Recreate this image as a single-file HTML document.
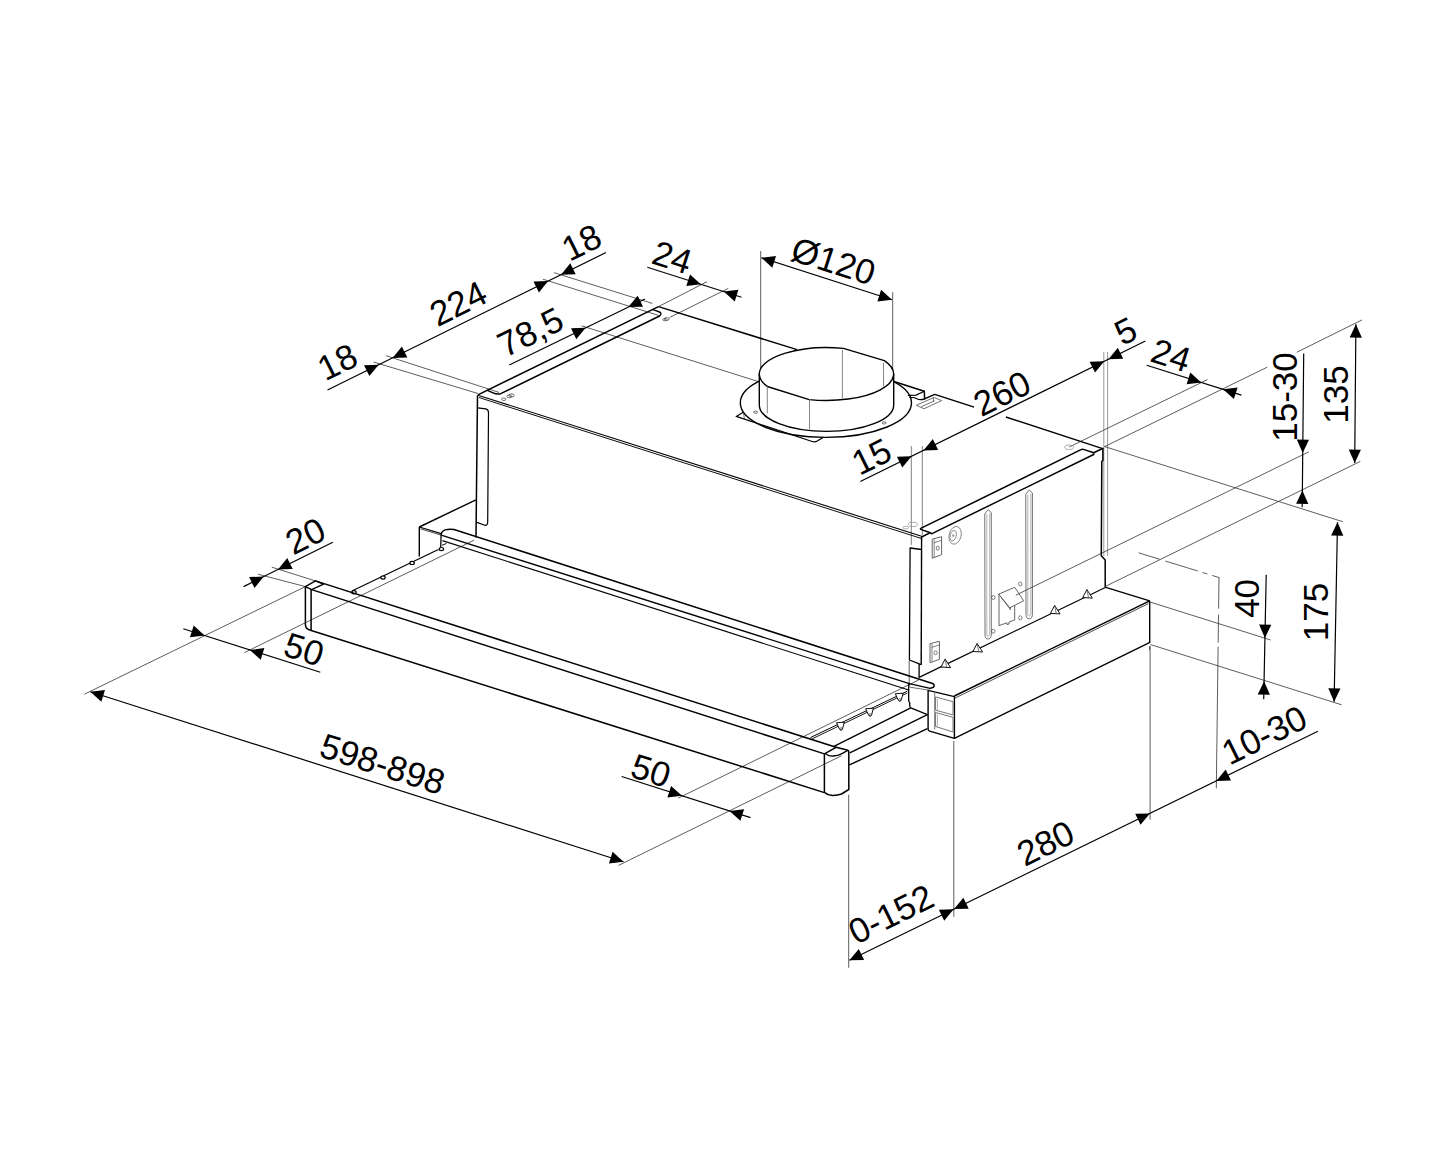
<!DOCTYPE html>
<html><head><meta charset="utf-8"><title>Drawing</title>
<style>
html,body{margin:0;padding:0;background:#fff;}
body{width:1445px;height:1156px;overflow:hidden;}
svg{display:block;}
text{font-family:"Liberation Sans",sans-serif;}
</style></head><body>
<svg width="1445" height="1156" viewBox="0 0 1445 1156">
<rect x="0" y="0" width="1445" height="1156" fill="#fff"/>
<line x1="373.5" y1="362.0" x2="478.0" y2="393.5" stroke="#333" stroke-width="0.8" />
<line x1="386.0" y1="355.7" x2="499.0" y2="392.4" stroke="#333" stroke-width="0.8" />
<line x1="542.9" y1="279.2" x2="659.8" y2="315.8" stroke="#333" stroke-width="0.8" />
<line x1="554.1" y1="272.7" x2="652.3" y2="303.4" stroke="#333" stroke-width="0.8" />
<line x1="581.5" y1="325.8" x2="759.4" y2="381.9" stroke="#333" stroke-width="0.8" />
<line x1="707.0" y1="281.7" x2="658.5" y2="306.6" stroke="#333" stroke-width="0.8" />
<line x1="728.3" y1="288.4" x2="669.5" y2="317.5" stroke="#333" stroke-width="0.8" />
<line x1="760.7" y1="251.0" x2="760.7" y2="374.4" stroke="#333" stroke-width="0.8" />
<line x1="892.7" y1="292.2" x2="892.7" y2="374.4" stroke="#333" stroke-width="0.8" />
<line x1="911.3" y1="446.0" x2="911.3" y2="545.0" stroke="#555" stroke-width="0.75" />
<line x1="922.3" y1="446.0" x2="922.3" y2="535.0" stroke="#555" stroke-width="0.75" />
<ellipse cx="913.0" cy="524.4" rx="4.6" ry="2.2" fill="none" stroke="#888" stroke-width="0.7"/>
<ellipse cx="905.8" cy="527.6" rx="2.8" ry="1.4" fill="none" stroke="#888" stroke-width="0.7"/>
<line x1="909.2" y1="661.0" x2="909.2" y2="686.0" stroke="#333" stroke-width="0.8" />
<line x1="1103.8" y1="352.0" x2="1103.8" y2="556.0" stroke="#777" stroke-width="0.75" />
<line x1="1107.6" y1="352.0" x2="1107.6" y2="556.0" stroke="#777" stroke-width="0.75" />
<line x1="1069.4" y1="446.9" x2="1207.4" y2="379.6" stroke="#333" stroke-width="0.8" />
<ellipse cx="1069.1" cy="447.3" rx="4.4" ry="2.2" fill="none" stroke="#888" stroke-width="0.7"/>
<line x1="1105.0" y1="446.4" x2="1267.2" y2="367.2" stroke="#333" stroke-width="0.8" />
<line x1="1296.8" y1="352.3" x2="1362.0" y2="319.9" stroke="#333" stroke-width="0.8" />
<line x1="1015.8" y1="595.2" x2="1308.7" y2="451.9" stroke="#333" stroke-width="0.8" />
<line x1="1105.8" y1="586.2" x2="1360.3" y2="461.4" stroke="#333" stroke-width="0.8" />
<line x1="1104.0" y1="446.4" x2="1342.8" y2="521.7" stroke="#333" stroke-width="0.8" />
<line x1="1150.3" y1="602.1" x2="1270.6" y2="640.0" stroke="#333" stroke-width="0.8" />
<line x1="1150.3" y1="644.5" x2="1341.6" y2="704.8" stroke="#333" stroke-width="0.8" />
<line x1="848.7" y1="794.7" x2="848.7" y2="967.8" stroke="#333" stroke-width="0.8" />
<line x1="953.8" y1="741.0" x2="953.8" y2="916.7" stroke="#333" stroke-width="0.8" />
<line x1="1150.1" y1="646.0" x2="1150.1" y2="819.6" stroke="#333" stroke-width="0.8" />
<line x1="1219.0" y1="577.7" x2="1216.3" y2="788.4" stroke="#333" stroke-width="0.8" stroke-dasharray="31 6 28 4 200"/>
<line x1="1138.6" y1="552.8" x2="1219.5" y2="577.7" stroke="#333" stroke-width="0.8" stroke-dasharray="22 6 34 5 5 5"/>
<line x1="84.4" y1="694.2" x2="305.4" y2="586.6" stroke="#333" stroke-width="0.8" />
<line x1="618.5" y1="865.4" x2="841.4" y2="755.8" stroke="#333" stroke-width="0.8" />
<line x1="244.4" y1="652.6" x2="474.0" y2="540.2" stroke="#333" stroke-width="0.8" />
<line x1="678.3" y1="798.1" x2="918.4" y2="680.1" stroke="#333" stroke-width="0.8" />
<line x1="258.0" y1="574.2" x2="305.4" y2="586.6" stroke="#333" stroke-width="0.8" />
<line x1="271.8" y1="567.2" x2="315.4" y2="580.9" stroke="#333" stroke-width="0.8" />
<line x1="477.5" y1="395.2" x2="476.0" y2="537.5" stroke="#000" stroke-width="1.5" />
<path d="M477.9,407.8 L485.6,408.8 Q488.5,409.4 488.5,412.4 L487.7,522 Q487.7,525.6 484.8,525.3 L476.9,522.4" stroke="#000" stroke-width="1.2" fill="none" stroke-linejoin="round" stroke-linecap="round" />
<line x1="477.9" y1="394.9" x2="658.5" y2="306.6" stroke="#000" stroke-width="1.5" />
<path d="M487.5,390.3 L493,392.8 Q497,394.6 500.7,393.7 L659.6,316 Q661,315.2 660.9,313.6 Q660.7,312.5 659.5,312 L653,309.7" stroke="#000" stroke-width="1.4" fill="none" stroke-linejoin="round" stroke-linecap="round" />
<line x1="477.9" y1="395.2" x2="921.6" y2="536.2" stroke="#000" stroke-width="1.1" />
<line x1="478.9" y1="397.5" x2="921.2" y2="538.4" stroke="#000" stroke-width="0.95" />
<line x1="658.5" y1="306.6" x2="797.0" y2="349.6" stroke="#000" stroke-width="1.5" />
<line x1="1005.9" y1="417.0" x2="1102.6" y2="448.6" stroke="#000" stroke-width="1.5" />
<ellipse cx="511.6" cy="395.4" rx="2.6" ry="1.6" fill="none" stroke="#333" stroke-width="0.7"/>
<ellipse cx="509.3" cy="396.3" rx="2.4" ry="1.5" fill="none" stroke="#333" stroke-width="0.7"/>
<ellipse cx="503.8" cy="399.2" rx="2.2" ry="1.3" fill="none" stroke="#333" stroke-width="0.7"/>
<ellipse cx="666.8" cy="319.0" rx="2.4" ry="1.4" fill="none" stroke="#333" stroke-width="0.7"/>
<ellipse cx="664.8" cy="319.6" rx="2.0" ry="1.2" fill="none" stroke="#333" stroke-width="0.7"/>
<ellipse cx="825.9" cy="402.8" rx="85.6" ry="34.6" fill="#fff" stroke="#000" stroke-width="1.4"/>
<path d="M742.9,412.6 L736.2,416.4 L812.2,441.5 Q814.7,442.3 817.2,441.1 L822.6,437.8" stroke="#000" stroke-width="1.2" fill="none" stroke-linejoin="round" stroke-linecap="round" />
<path d="M743.6,413 L744.4,418.8" stroke="#333" stroke-width="0.7" fill="none" stroke-linejoin="round" stroke-linecap="round" />
<path d="M893.1,381.3 L924.3,391.2 L924.6,398.9 L934.7,394.4 L973.4,406.9" stroke="#000" stroke-width="1.5" fill="none" stroke-linejoin="round" stroke-linecap="round" />
<path d="M924.3,391.2 L916,395.1 L908.4,395.4 M909.8,397.5 Q915,397.3 917,398.8 Q920,400.6 924.6,398.9" stroke="#000" stroke-width="1.2" fill="none" stroke-linejoin="round" stroke-linecap="round" />
<ellipse cx="755.6" cy="412.2" rx="2.0" ry="1.1" fill="none" stroke="#333" stroke-width="0.7"/>
<ellipse cx="884.1" cy="422.9" rx="2.0" ry="1.1" fill="none" stroke="#333" stroke-width="0.7"/>
<path d="M759.3,374.0 L759.3,404.9 A67.2,26.5 0 0 0 893.7,404.9 L893.7,374.0 Z" stroke="#000" stroke-width="1.4" fill="#fff" stroke-linejoin="round" stroke-linecap="round" />
<path d="M759.3,374.0 A67.2,26.5 0 0 1 843.4,348.4 L884.4,360.6 A67.2,26.5 0 0 1 809.2,399.6 L767.3,386.5 A67.2,26.5 0 0 1 759.3,374.0 Z" stroke="#000" stroke-width="1.4" fill="#fff" stroke-linejoin="round" stroke-linecap="round" />
<line x1="767.3" y1="385.0" x2="767.3" y2="413.2" stroke="#666" stroke-width="0.8" />
<line x1="809.5" y1="399.0" x2="809.5" y2="429.2" stroke="#666" stroke-width="0.8" />
<line x1="842.4" y1="349.8" x2="842.4" y2="398.6" stroke="#666" stroke-width="0.8" />
<line x1="883.5" y1="362.7" x2="883.5" y2="386.5" stroke="#666" stroke-width="0.8" />
<path d="M916.7,405.1 L934,397.5 L941.6,400.6 L924.3,408.6 Z M921.5,406.6 L934.2,401 M933.3,398.2 L933.6,401" stroke="#333" stroke-width="0.7" fill="none" stroke-linejoin="round" stroke-linecap="round" />
<path d="M921.6,537 L930.4,532.7 M930.4,532.7 L921.4,529.6 Q919.6,528.8 921.2,528.2 L1081,449.6 Q1082.6,448.8 1084.3,449.6 L1093.7,452.7 L1093.7,454.5 L931.5,533.8 L930.4,532.7 M1093.7,452.7 L1102.6,448.5" stroke="#000" stroke-width="1.5" fill="none" stroke-linejoin="round" stroke-linecap="round" />
<path d="M1102.9,448.6 L1102.9,460.4 L1101.8,461.5 L1101.3,555.8 L1105.2,560 L1105.2,586.5" stroke="#000" stroke-width="1.5" fill="none" stroke-linejoin="round" stroke-linecap="round" />
<line x1="921.6" y1="536.5" x2="921.2" y2="664.3" stroke="#000" stroke-width="1.4" />
<path d="M921.4,549.5 L910.1,548 L909.4,660 L921.2,664.6 M919.1,664.2 L919.1,677.4" stroke="#000" stroke-width="1.3" fill="none" stroke-linejoin="round" stroke-linecap="round" />
<line x1="919.1" y1="677.4" x2="1105.8" y2="587.3" stroke="#000" stroke-width="1.2" />
<path d="M941.1,666.7 L945.1,659.1 L950.4,667.3 Z" stroke="#111" stroke-width="1.0" fill="#fff" stroke-linejoin="round" stroke-linecap="round" />
<path d="M945.1,659.1 L946.7,667.0" stroke="#444" stroke-width="0.7" fill="none" stroke-linejoin="round" stroke-linecap="round" />
<path d="M973.1,651.1 L977.1,643.5 L982.4,651.7 Z" stroke="#111" stroke-width="1.0" fill="#fff" stroke-linejoin="round" stroke-linecap="round" />
<path d="M977.1,643.5 L978.7,651.4" stroke="#444" stroke-width="0.7" fill="none" stroke-linejoin="round" stroke-linecap="round" />
<path d="M1050.6,613.0 L1054.6,605.4 L1059.9,613.6 Z" stroke="#111" stroke-width="1.0" fill="#fff" stroke-linejoin="round" stroke-linecap="round" />
<path d="M1054.6,605.4 L1056.2,613.3" stroke="#444" stroke-width="0.7" fill="none" stroke-linejoin="round" stroke-linecap="round" />
<path d="M1082.9,597.2 L1086.9,589.6 L1092.2,597.8 Z" stroke="#111" stroke-width="1.0" fill="#fff" stroke-linejoin="round" stroke-linecap="round" />
<path d="M1086.9,589.6 L1088.5,597.5" stroke="#444" stroke-width="0.7" fill="none" stroke-linejoin="round" stroke-linecap="round" />
<ellipse cx="955.1" cy="535.3" rx="6.0" ry="9.0" fill="none" stroke="#777" stroke-width="0.8" transform="rotate(14 955.1 535.3)"/>
<ellipse cx="953.2" cy="535.6" rx="3.0" ry="5.4" fill="none" stroke="#777" stroke-width="0.8" transform="rotate(14 953.2 535.6)"/>
<ellipse cx="953.2" cy="535.6" rx="0.7" ry="0.9" fill="none" stroke="#777" stroke-width="0.9"/>
<path d="M932.6,539.0 L941.6,536.7 L941.6,554.7 L932.6,558.1 Z" stroke="#555" stroke-width="0.9" fill="none" stroke-linejoin="round" stroke-linecap="round" />
<path d="M934.2,542.7 L941.6,540.3 M934.2,539.9 L934.2,556.7" stroke="#333" stroke-width="0.6" fill="none" stroke-linejoin="round" stroke-linecap="round" />
<ellipse cx="937.8" cy="548.2" rx="1.6" ry="2.0" fill="none" stroke="#333" stroke-width="0.6"/>
<path d="M930.4,643.6 L939.4,641.3 L939.4,659.3 L930.4,662.7 Z" stroke="#555" stroke-width="0.9" fill="none" stroke-linejoin="round" stroke-linecap="round" />
<path d="M932.0,647.3 L939.4,644.9 M932.0,644.5 L932.0,661.3" stroke="#333" stroke-width="0.6" fill="none" stroke-linejoin="round" stroke-linecap="round" />
<ellipse cx="935.6" cy="652.8" rx="1.6" ry="2.0" fill="none" stroke="#333" stroke-width="0.6"/>
<path d="M985.0,513.7 L988.1,509.7 L991.3,512.7 L991.3,634.0 Q991.3,639.0 988.1,639.0 Q985.0,639.0 985.0,635.0 Z" stroke="#333" stroke-width="0.7" fill="none" stroke-linejoin="round" stroke-linecap="round" />
<path d="M986.8,514.7 L986.8,635.0 Q988.1,638.0 989.7,634.0 L989.7,513.7" stroke="#808080" stroke-width="0.6" fill="none" stroke-linejoin="round" stroke-linecap="round" />
<path d="M1026.0,494.0 L1029.2,490.0 L1032.4,493.0 L1032.4,613.8 Q1032.4,618.8 1029.2,618.8 Q1026.0,618.8 1026.0,614.8 Z" stroke="#333" stroke-width="0.7" fill="none" stroke-linejoin="round" stroke-linecap="round" />
<path d="M1027.8,495.0 L1027.8,614.8 Q1029.2,617.8 1030.8,613.8 L1030.8,494.0" stroke="#808080" stroke-width="0.6" fill="none" stroke-linejoin="round" stroke-linecap="round" />
<path d="M999,594 L1014.7,587.3 L1023.7,600.8 L1010.2,607.6 Z" stroke="#555" stroke-width="0.9" fill="none" stroke-linejoin="round" stroke-linecap="round" />
<path d="M999,594 L999,625.6 L1007,622.8 L1007,624.6 L1009,624 L1009,622 L1014.7,619.9 L1014.7,605.4" stroke="#555" stroke-width="0.9" fill="none" stroke-linejoin="round" stroke-linecap="round" />
<path d="M1001,597 L1010.6,610 L1010.2,607.6" stroke="#333" stroke-width="0.6" fill="none" stroke-linejoin="round" stroke-linecap="round" />
<ellipse cx="993.3" cy="597.5" rx="1.7" ry="2.0" fill="none" stroke="#333" stroke-width="0.6"/>
<ellipse cx="1020.3" cy="584.0" rx="1.7" ry="2.0" fill="none" stroke="#333" stroke-width="0.6"/>
<ellipse cx="993.3" cy="631.2" rx="1.7" ry="2.0" fill="none" stroke="#333" stroke-width="0.6"/>
<ellipse cx="1020.3" cy="617.8" rx="1.7" ry="2.0" fill="none" stroke="#333" stroke-width="0.6"/>
<line x1="1105.8" y1="587.3" x2="1149.7" y2="600.8" stroke="#000" stroke-width="1.4" />
<line x1="1149.7" y1="600.8" x2="954.4" y2="696.0" stroke="#000" stroke-width="1.5" />
<line x1="1148.5" y1="603.6" x2="954.4" y2="698.4" stroke="#222" stroke-width="0.8" />
<line x1="1149.7" y1="600.8" x2="1149.7" y2="642.4" stroke="#000" stroke-width="1.4" />
<path d="M1149.7,642.4 L1147.4,643.6 L954.4,738.3" stroke="#000" stroke-width="1.4" fill="none" stroke-linejoin="round" stroke-linecap="round" />
<path d="M928.1,690.4 L954.4,696.6 L954.4,738.3 L929.7,731.2 Q928.1,730.6 928.1,729.2 Z" stroke="#000" stroke-width="1.4" fill="none" stroke-linejoin="round" stroke-linecap="round" />
<path d="M934.7,691.8 L934.7,729 M935.9,697 L953,701.7 L953,714.9 L935.9,710.3 Z M935.9,712.6 L953,717.3 L953,732 L935.9,726.6 Z" stroke="#777" stroke-width="1.0" fill="none" stroke-linejoin="round" stroke-linecap="round" />
<path d="M937.4,699 L937.4,710 M937.4,714.6 L937.4,726.4" stroke="#999" stroke-width="0.8" fill="none" stroke-linejoin="round" stroke-linecap="round" />
<line x1="1149.7" y1="646.0" x2="1149.7" y2="650.0" stroke="#333" stroke-width="0.8" />
<path d="M441.1,534.9 Q441.5,531.2 445,529.9 Q449,528.6 454,529.5 L932.6,683.5 Q935.3,685 933.4,687.2 L930.2,688.4" stroke="#000" stroke-width="1.5" fill="none" stroke-linejoin="round" stroke-linecap="round" />
<line x1="442.0" y1="535.4" x2="909.4" y2="683.6" stroke="#000" stroke-width="1.4" />
<line x1="442.4" y1="540.6" x2="908.7" y2="690.0" stroke="#000" stroke-width="1.15" />
<path d="M909.4,683.6 L930.2,688.4 M908.7,684.5 L908.7,700.9 Q910.5,703 909.6,705 Q909.6,707 910.8,707.8 L927.4,714.7" stroke="#000" stroke-width="1.3" fill="none" stroke-linejoin="round" stroke-linecap="round" />
<path d="M910,687.2 L929,690.2" stroke="#333" stroke-width="0.7" fill="none" stroke-linejoin="round" stroke-linecap="round" />
<line x1="419.3" y1="527.0" x2="476.0" y2="499.8" stroke="#000" stroke-width="1.4" />
<line x1="419.3" y1="527.0" x2="419.3" y2="556.6" stroke="#000" stroke-width="1.4" />
<line x1="419.3" y1="527.0" x2="441.1" y2="533.6" stroke="#000" stroke-width="1.3" />
<line x1="420.3" y1="528.8" x2="440.6" y2="535.0" stroke="#222" stroke-width="0.8" />
<line x1="441.1" y1="534.9" x2="440.7" y2="548.1" stroke="#000" stroke-width="1.3" />
<path d="M442.4,545.2 L446.1,543.6" stroke="#000" stroke-width="1.0" fill="none" stroke-linejoin="round" stroke-linecap="round" />
<line x1="438.4" y1="549.5" x2="351.9" y2="591.0" stroke="#000" stroke-width="1.2" />
<ellipse cx="441.4" cy="549.1" rx="2.2" ry="1.6" fill="#fff" stroke="#000" stroke-width="1.2"/>
<ellipse cx="412.1" cy="562.9" rx="2.2" ry="1.6" fill="#fff" stroke="#000" stroke-width="1.2"/>
<ellipse cx="383.0" cy="577.6" rx="2.2" ry="1.6" fill="#fff" stroke="#000" stroke-width="1.2"/>
<ellipse cx="354.0" cy="592.2" rx="2.2" ry="1.6" fill="#fff" stroke="#000" stroke-width="1.2"/>
<line x1="315.4" y1="580.9" x2="836.0" y2="747.3" stroke="#000" stroke-width="1.5" />
<line x1="311.6" y1="589.6" x2="824.4" y2="753.9" stroke="#000" stroke-width="1.5" />
<line x1="310.4" y1="630.2" x2="824.4" y2="792.6" stroke="#000" stroke-width="1.5" />
<path d="M305.4,586.6 L315.4,580.9 L323.6,584.1 L311.6,589.6 Z" stroke="#000" stroke-width="1.3" fill="none" stroke-linejoin="round" stroke-linecap="round" />
<path d="M305.4,586.6 L305.4,624.5 Q305.4,629 310.4,630.2 M311.1,589.6 L311.1,630.2" stroke="#000" stroke-width="1.5" fill="none" stroke-linejoin="round" stroke-linecap="round" />
<path d="M824.4,753.9 L824.4,792.3 Q828,795.6 833.2,795.4 Q838,795.4 841.5,794 L848.8,789.5 L848.8,751.5 Q848.6,750.3 847.1,750.1 L836,747.3 Z" stroke="#000" stroke-width="1.5" fill="none" stroke-linejoin="round" stroke-linecap="round" />
<path d="M825.9,753.9 Q829,756.4 833.2,756 Q838,755.8 841.5,753.9 L847.8,750.4" stroke="#000" stroke-width="1.3" fill="none" stroke-linejoin="round" stroke-linecap="round" />
<line x1="833.9" y1="746.3" x2="910.8" y2="707.8" stroke="#000" stroke-width="1.3" />
<line x1="849.8" y1="752.8" x2="927.4" y2="714.7" stroke="#000" stroke-width="1.4" />
<line x1="849.5" y1="764.9" x2="927.4" y2="728.6" stroke="#000" stroke-width="1.4" />
<line x1="810.4" y1="737.6" x2="907.3" y2="691.2" stroke="#000" stroke-width="1.0" />
<line x1="811.4" y1="739.2" x2="907.3" y2="693.0" stroke="#000" stroke-width="0.9" />
<path d="M836.9,722.7 L844.3,722.2 L842.5,729.0 Q841.1,731.6 839.5,729.1 Z" stroke="#111" stroke-width="1.0" fill="#fff" stroke-linejoin="round" stroke-linecap="round" />
<ellipse cx="841.0" cy="729.0" rx="1.5" ry="1.2" fill="none" stroke="#333" stroke-width="0.7"/>
<path d="M866.0,708.7 L873.4,708.2 L871.6,715.0 Q870.2,717.6 868.6,715.1 Z" stroke="#111" stroke-width="1.0" fill="#fff" stroke-linejoin="round" stroke-linecap="round" />
<ellipse cx="870.1" cy="715.0" rx="1.5" ry="1.2" fill="none" stroke="#333" stroke-width="0.7"/>
<path d="M895.7,693.7 L903.1,693.2 L901.3,700.0 Q899.9,702.6 898.3,700.1 Z" stroke="#111" stroke-width="1.0" fill="#fff" stroke-linejoin="round" stroke-linecap="round" />
<ellipse cx="899.8" cy="700.0" rx="1.5" ry="1.2" fill="none" stroke="#333" stroke-width="0.7"/>
<line x1="327.5" y1="390.0" x2="606.0" y2="252.5" stroke="#000" stroke-width="1.2" />
<polygon points="378.7,364.7 369.4,376.1 364.0,365.2" fill="#000"/>
<polygon points="392.6,357.9 401.9,346.5 407.3,357.4" fill="#000"/>
<polygon points="548.2,281.0 538.9,292.4 533.5,281.5" fill="#000"/>
<polygon points="561.0,274.7 570.3,263.3 575.7,274.3" fill="#000"/>
<text transform="translate(337.4,362.0) rotate(-26.3)" x="0" y="12.1" font-size="35" text-anchor="middle" fill="#000">18</text>
<text transform="translate(458.2,303.4) rotate(-26.3)" x="0" y="12.1" font-size="35" text-anchor="middle" fill="#000">224</text>
<text transform="translate(581.5,242.4) rotate(-26.3)" x="0" y="12.1" font-size="35" text-anchor="middle" fill="#000">18</text>
<line x1="509.3" y1="365.0" x2="645.0" y2="299.0" stroke="#000" stroke-width="1.2" />
<polygon points="585.7,327.8 576.3,339.2 571.0,328.2" fill="#000"/>
<polygon points="628.3,307.1 637.7,295.8 643.0,306.7" fill="#000"/>
<text transform="translate(530.4,332.0) rotate(-26.3)" x="0" y="12.1" font-size="35" text-anchor="middle" fill="#000">78,5</text>
<line x1="647.3" y1="267.3" x2="741.5" y2="297.2" stroke="#000" stroke-width="1.2" />
<polygon points="700.9,284.3 686.3,286.1 690.0,274.4" fill="#000"/>
<polygon points="723.8,291.6 738.4,289.8 734.7,301.4" fill="#000"/>
<text transform="translate(672.2,257.3) rotate(17.7)" x="0" y="12.1" font-size="35" text-anchor="middle" fill="#000">24</text>
<line x1="761.4" y1="257.8" x2="892.0" y2="299.7" stroke="#000" stroke-width="1.2" />
<polygon points="761.4,257.8 776.0,256.1 772.3,267.7" fill="#000"/>
<polygon points="892.0,299.7 877.4,301.4 881.1,289.8" fill="#000"/>
<text transform="translate(833.4,261.2) rotate(17.7)" x="0" y="12.1" font-size="35" text-anchor="middle" fill="#000">Ø120</text>
<line x1="860.3" y1="481.5" x2="1145.4" y2="341.0" stroke="#000" stroke-width="1.2" />
<polygon points="911.6,456.2 902.3,467.6 896.9,456.7" fill="#000"/>
<polygon points="923.5,450.4 932.8,439.0 938.2,449.9" fill="#000"/>
<polygon points="1104.3,361.3 1095.0,372.6 1089.6,361.7" fill="#000"/>
<polygon points="1108.5,359.2 1117.8,347.8 1123.2,358.7" fill="#000"/>
<text transform="translate(871.5,456.6) rotate(-26.3)" x="0" y="12.1" font-size="35" text-anchor="middle" fill="#000">15</text>
<text transform="translate(1002.0,393.4) rotate(-26.3)" x="0" y="12.1" font-size="35" text-anchor="middle" fill="#000">260</text>
<text transform="translate(1125.5,331.0) rotate(-26.3)" x="0" y="12.1" font-size="35" text-anchor="middle" fill="#000">5</text>
<line x1="1146.7" y1="365.2" x2="1241.4" y2="395.1" stroke="#000" stroke-width="1.2" />
<polygon points="1201.2,382.4 1186.6,384.2 1190.3,372.6" fill="#000"/>
<polygon points="1223.0,389.3 1237.6,387.5 1233.9,399.1" fill="#000"/>
<text transform="translate(1171.0,355.3) rotate(17.7)" x="0" y="12.1" font-size="35" text-anchor="middle" fill="#000">24</text>
<line x1="1303.7" y1="353.5" x2="1302.2" y2="507.2" stroke="#000" stroke-width="1.2" />
<polygon points="1302.7,453.0 1296.8,439.5 1309.0,439.7" fill="#000"/>
<polygon points="1302.4,490.5 1308.3,504.0 1296.1,503.8" fill="#000"/>
<text transform="translate(1284.6,397.0) rotate(-90.0)" x="0" y="12.1" font-size="35" text-anchor="middle" fill="#000">15-30</text>
<line x1="1355.9" y1="324.3" x2="1354.7" y2="463.1" stroke="#000" stroke-width="1.2" />
<polygon points="1355.9,324.3 1361.9,337.8 1349.7,337.6" fill="#000"/>
<polygon points="1354.7,463.1 1348.7,449.6 1360.9,449.8" fill="#000"/>
<text transform="translate(1335.4,394.6) rotate(-90.0)" x="0" y="12.1" font-size="35" text-anchor="middle" fill="#000">135</text>
<line x1="1337.5" y1="522.3" x2="1334.1" y2="701.8" stroke="#000" stroke-width="1.2" />
<polygon points="1337.5,522.3 1343.3,535.8 1331.1,535.6" fill="#000"/>
<polygon points="1334.1,701.8 1328.3,688.3 1340.5,688.5" fill="#000"/>
<text transform="translate(1315.4,612.0) rotate(-90.0)" x="0" y="12.1" font-size="35" text-anchor="middle" fill="#000">175</text>
<line x1="1266.2" y1="574.7" x2="1263.7" y2="699.3" stroke="#000" stroke-width="1.2" />
<polygon points="1264.9,638.0 1259.1,624.5 1271.3,624.7" fill="#000"/>
<polygon points="1264.1,681.2 1269.9,694.7 1257.7,694.5" fill="#000"/>
<text transform="translate(1246.9,598.4) rotate(-90.0)" x="0" y="12.1" font-size="35" text-anchor="middle" fill="#000">40</text>
<line x1="849.4" y1="960.3" x2="1317.9" y2="731.2" stroke="#000" stroke-width="1.2" />
<polygon points="849.4,960.3 858.8,948.9 864.1,959.9" fill="#000"/>
<polygon points="953.6,909.3 944.2,920.7 938.9,909.8" fill="#000"/>
<polygon points="954.0,909.1 963.4,897.8 968.7,908.7" fill="#000"/>
<polygon points="1149.9,813.4 1140.5,824.7 1135.2,813.8" fill="#000"/>
<polygon points="1216.3,780.9 1225.7,769.5 1231.0,780.5" fill="#000"/>
<text transform="translate(891.0,914.2) rotate(-26.3)" x="0" y="12.1" font-size="35" text-anchor="middle" fill="#000">0-152</text>
<text transform="translate(1045.5,843.2) rotate(-26.3)" x="0" y="12.1" font-size="35" text-anchor="middle" fill="#000">280</text>
<text transform="translate(1264.2,735.0) rotate(-26.3)" x="0" y="12.1" font-size="35" text-anchor="middle" fill="#000">10-30</text>
<line x1="90.4" y1="691.8" x2="623.5" y2="861.7" stroke="#000" stroke-width="1.2" />
<polygon points="90.4,691.8 105.0,690.1 101.3,701.7" fill="#000"/>
<polygon points="623.5,861.7 608.9,863.4 612.6,851.8" fill="#000"/>
<text transform="translate(382.5,764.0) rotate(17.7)" x="0" y="12.1" font-size="35" text-anchor="middle" fill="#000">598-898</text>
<line x1="183.3" y1="628.7" x2="320.3" y2="672.3" stroke="#000" stroke-width="1.2" />
<polygon points="204.6,635.5 190.0,637.2 193.7,625.6" fill="#000"/>
<polygon points="249.8,649.9 264.4,648.1 260.7,659.7" fill="#000"/>
<text transform="translate(304.1,649.4) rotate(17.7)" x="0" y="12.1" font-size="35" text-anchor="middle" fill="#000">50</text>
<line x1="621.7" y1="776.5" x2="750.5" y2="817.6" stroke="#000" stroke-width="1.2" />
<polygon points="682.0,795.7 667.4,797.5 671.1,785.9" fill="#000"/>
<polygon points="729.5,810.9 744.1,809.2 740.4,820.8" fill="#000"/>
<text transform="translate(650.9,770.7) rotate(17.7)" x="0" y="12.1" font-size="35" text-anchor="middle" fill="#000">50</text>
<line x1="243.6" y1="586.6" x2="332.8" y2="542.3" stroke="#000" stroke-width="1.2" />
<polygon points="263.8,576.6 254.5,588.0 249.1,577.1" fill="#000"/>
<polygon points="278.0,569.5 287.3,558.1 292.7,569.0" fill="#000"/>
<text transform="translate(305.4,536.0) rotate(-26.3)" x="0" y="12.1" font-size="35" text-anchor="middle" fill="#000">20</text>
</svg>
</body></html>
